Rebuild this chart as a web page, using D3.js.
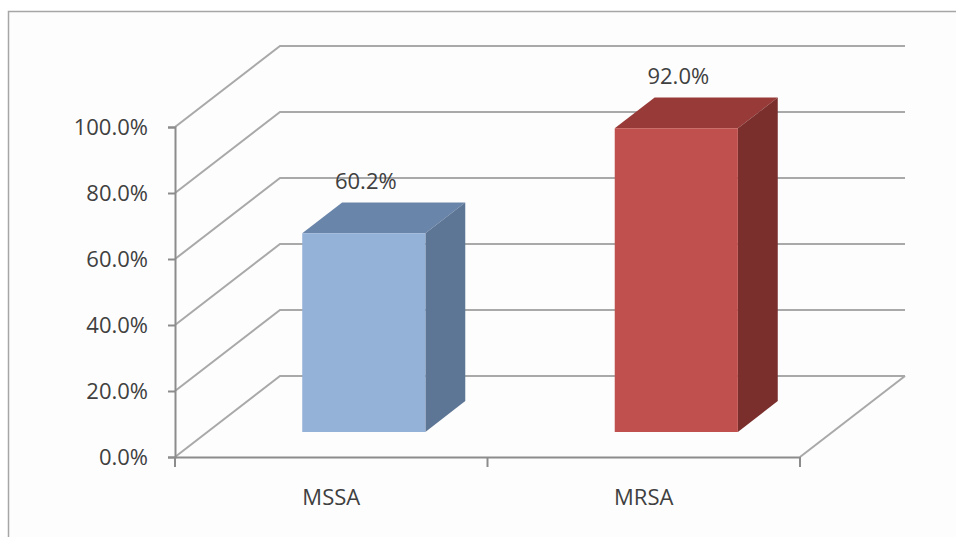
<!DOCTYPE html>
<html>
<head>
<meta charset="utf-8">
<script src="https://cdn.jsdelivr.net/npm/d3@7"></script>
<style>
  body { margin: 0; background: #fff; }
  svg { display: block; font-family: "Open Sans", sans-serif; }
</style>
</head>
<body>
<svg id="chart" width="956" height="537"></svg>
<script>
var categories = ["MSSA", "MRSA"]
var values = [60.2, 92.0]
var yTicks = [0, 20, 40, 60, 80, 100]

// face colours per bar: front, side, top
var faceColors = [
  { front: "#94b1d8", side: "#5e7696", top: "#6a85aa" },
  { front: "#c0504d", side: "#7a2f2d", top: "#983a37" }
]

var dims = {
  width: 956,
  height: 537,
  left: 175,
  right: 800,
  top: 127,
  bottom: 457,
  depthX: 105,
  depthY: -81
}

var svg = d3.select("#chart")

var xScale = d3.scaleBand()
  .domain(categories)
  .range([dims.left, dims.right])
  .padding(0)

var yScale = d3.scaleLinear()
  .domain([0, 100])
  .range([dims.bottom, dims.top])

// point in the 3d box: x on front plane, value, depth 0..1
function proj(x, v, d) {
  return [x + d * dims.depthX, yScale(v) + d * dims.depthY]
}

// outer chart border
svg.append("rect")
  .attr("x", 8.5).attr("y", 11.5)
  .attr("width", dims.width).attr("height", dims.height)
  .attr("fill", "#fdfdfd")
  .attr("stroke", "#a6a6a6")
  .attr("stroke-width", 1.5)

var gridColor = "#a9a9a9"
var grid = svg.append("g")
  .attr("fill", "none")
  .attr("stroke", gridColor)
  .attr("stroke-width", 2)

grid.selectAll("path")
  .data(yTicks)
  .enter()
  .append("path")
  .attr("d", function (v) {
    var a = proj(dims.left, v, 0)
    var b = proj(dims.left, v, 1)
    var c = proj(dims.right, v, 1)
    return d3.line()([a, b, c])
  })

// right edge of the floor
grid.append("path")
  .attr("d", d3.line()([proj(dims.right, 0, 1), proj(dims.right, 0, 0)]))

// y axis on the front plane
var yAxisGen = d3.axisLeft(yScale)
  .tickValues(yTicks)
  .tickSize(7)
  .tickPadding(20)
  .tickFormat(function (d) { return d.toFixed(1) + "%" })

var yAxis = svg.append("g")
  .attr("transform", "translate(" + dims.left + ",0)")
  .call(yAxisGen)

yAxis.select(".domain").attr("stroke", "#8c8c8c").attr("stroke-width", 2)
yAxis.selectAll(".tick line").attr("stroke", "#8c8c8c").attr("stroke-width", 2)
yAxis.selectAll(".tick text")
  .attr("fill", "#404040")
  .style("font-size", "22px")
  .style("font-family", "'Open Sans', sans-serif")

// category axis along the front floor edge
var xAxisGen = d3.axisBottom(xScale).tickSize(0).tickPadding(32)
var xAxis = svg.append("g")
  .attr("transform", "translate(0," + dims.bottom + ")")
  .call(xAxisGen)

xAxis.select(".domain").attr("stroke", "#8c8c8c").attr("stroke-width", 2)
xAxis.selectAll(".tick text")
  .attr("fill", "#404040")
  .style("font-size", "22px")
  .style("font-family", "'Open Sans', sans-serif")

// boundary tick marks between categories
var bounds = categories.map(function (c) { return xScale(c) }).concat([dims.right])
svg.append("g")
  .selectAll("line")
  .data(bounds)
  .enter()
  .append("line")
  .attr("x1", d => d).attr("x2", d => d)
  .attr("y1", dims.bottom).attr("y2", dims.bottom + 10)
  .attr("stroke", "#8c8c8c")
  .attr("stroke-width", 2)

// 3d bars
var barRatio = 0.394
var depthFront = 0.31
var depthBack = 0.69

var bars = svg.append("g")
  .selectAll("g")
  .data(values)
  .enter()
  .append("g")

function barX0(d, i) {
  var bw = xScale.bandwidth()
  return xScale(categories[i]) + bw / 2 - bw * barRatio / 2
}
function barX1(d, i) {
  var bw = xScale.bandwidth()
  return xScale(categories[i]) + bw / 2 + bw * barRatio / 2
}

bars.append("path")
  .attr("fill", (d, i) => faceColors[i].top)
  .attr("d", function (d, i) {
    var x0 = barX0(d, i), x1 = barX1(d, i)
    return d3.line()([proj(x0, d, depthFront), proj(x1, d, depthFront),
      proj(x1, d, depthBack), proj(x0, d, depthBack)]) + "Z"
  })

bars.append("path")
  .attr("fill", (d, i) => faceColors[i].side)
  .attr("d", function (d, i) {
    var x1 = barX1(d, i)
    return d3.line()([proj(x1, 0, depthFront), proj(x1, d, depthFront),
      proj(x1, d, depthBack), proj(x1, 0, depthBack)]) + "Z"
  })

bars.append("path")
  .attr("fill", (d, i) => faceColors[i].front)
  .attr("d", function (d, i) {
    var x0 = barX0(d, i), x1 = barX1(d, i)
    return d3.line()([proj(x0, 0, depthFront), proj(x1, 0, depthFront),
      proj(x1, d, depthFront), proj(x0, d, depthFront)]) + "Z"
  })

// data labels
bars.append("text")
  .attr("x", function (d, i) {
    return (proj(barX0(d, i), d, depthFront)[0] + proj(barX1(d, i), d, depthFront)[0]) / 2 + 2
  })
  .attr("y", function (d, i) { return proj(0, d, depthFront)[1] - 53 })
  .attr("text-anchor", "middle")
  .attr("dominant-baseline", "central")
  .attr("fill", "#404040")
  .style("font-size", "22px")
  .text(d => d.toFixed(1) + "%")
</script>
</body>
</html>
